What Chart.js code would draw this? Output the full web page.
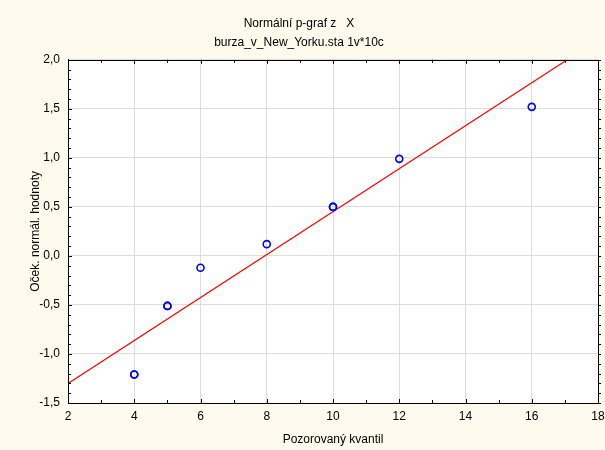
<!DOCTYPE html>
<html>
<head>
<meta charset="utf-8">
<script src="https://cdn.jsdelivr.net/npm/chart.js@4/dist/chart.umd.min.js"></script>
<style>
  html, body { margin: 0; padding: 0; background: #FEFAEE; }
  #wrap { width: 605px; height: 450px; }
</style>
</head>
<body>
<div id="wrap"><canvas id="chart" width="605" height="450"></canvas></div>
<script>
// pozorované hodnoty a očekávané normální hodnoty
const observed = [4, 4, 5, 5, 6, 8, 10, 10, 12, 16];
const expected = [-1.21, -1.21, -0.51, -0.51, -0.12, 0.12, 0.50, 0.50, 0.99, 1.52];
// koncové body přímky
const lineX = [2, 17.07];
const lineY = [-1.30, 2.0];
const xTicks = [2, 4, 6, 8, 10, 12, 14, 16, 18];
const yTicks = [-1.5, -1.0, -0.5, 0.0, 0.5, 1.0, 1.5, 2.0];

const FONT = 'Liberation Sans, Arial, sans-serif';

// rámeček a malé dílky uvnitř grafu
const framePlugin = {
    id: 'frame',
    afterDraw(chart) {
        const ctx = chart.ctx;
        const a = chart.chartArea;
        const xs = chart.scales.x, ys = chart.scales.y;
        ctx.save();
        ctx.strokeStyle = '#000';
        ctx.lineWidth = 1;
        ctx.strokeRect(Math.round(a.left) + 0.5, Math.round(a.top) + 0.5,
            Math.round(a.right - a.left), Math.round(a.bottom - a.top));
        ctx.beginPath();
        for (let v = xTicks[0]; v <= xTicks[xTicks.length - 1]; v += 1) {
            const px = Math.round(xs.getPixelForValue(v)) + 0.5;
            const len = (v % 2 === 0) ? 4 : 3;
            ctx.moveTo(px, a.bottom); ctx.lineTo(px, a.bottom - len);
            ctx.moveTo(px, a.top); ctx.lineTo(px, a.top + len);
        }
        for (let i = 0; i <= 35; i++) {
            const v = -1.5 + i * 0.1;
            const py = Math.round(ys.getPixelForValue(v)) + 0.5;
            const len = (i % 5 === 0) ? 4 : 3;
            ctx.moveTo(a.left, py); ctx.lineTo(a.left + len, py);
            ctx.moveTo(a.right, py); ctx.lineTo(a.right + 3, py);
        }
        ctx.stroke();
        ctx.restore();
    }
};

const bgPlugin = {
    id: 'bg',
    beforeDraw(chart) {
        const ctx = chart.ctx;
        const a = chart.chartArea;
        ctx.save();
        ctx.fillStyle = '#FEFAEE';
        ctx.fillRect(0, 0, chart.width, chart.height);
        ctx.fillStyle = '#FFFFFF';
        ctx.fillRect(a.left, a.top, a.right - a.left, a.bottom - a.top);
        ctx.restore();
    }
};

new Chart(document.getElementById('chart'), {
    type: 'scatter',
    data: {
        datasets: [
            {
                label: 'X',
                data: observed.map((x, i) => ({ x: x, y: expected[i] })),
                pointStyle: 'circle',
                pointRadius: 3.5,
                pointBorderWidth: 1.6,
                pointBorderColor: '#0000FF',
                pointBackgroundColor: 'rgba(0,0,0,0)',
                showLine: false
            },
            {
                label: 'přímka',
                data: lineX.map((x, i) => ({ x: x, y: lineY[i] })),
                showLine: true,
                borderColor: '#FF0000',
                borderWidth: 1.2,
                pointRadius: 0,
                fill: false
            }
        ]
    },
    options: {
        responsive: false,
        animation: false,
        layout: { padding: { left: 0, right: 7, top: 0, bottom: 0 } },
        plugins: {
            legend: { display: false },
            tooltip: { enabled: false },
            title: {
                display: true,
                text: 'Normální p-graf z   X',
                color: '#000',
                font: { family: FONT, size: 12, weight: 'normal' },
                padding: { top: 16, bottom: 5 }
            },
            subtitle: {
                display: true,
                text: 'burza_v_New_Yorku.sta 1v*10c',
                color: '#000',
                font: { family: FONT, size: 12, weight: 'normal' },
                padding: { top: 0, bottom: 10 }
            }
        },
        scales: {
            x: {
                type: 'linear',
                min: 2,
                max: 18,
                afterFit(scale) {
                    scale.height = 47;
                    scale.paddingRight = 0;
                    scale.paddingLeft = 0;
                },
                afterBuildTicks(scale) { scale.ticks = xTicks.map(v => ({ value: v })); },
                ticks: {
                    color: '#000',
                    padding: 6,
                    maxRotation: 0,
                    font: { family: FONT, size: 12 },
                    callback: v => String(v)
                },
                grid: { color: '#DDDDDD', lineWidth: 1, drawTicks: false },
                border: { display: true, color: '#000', width: 1 },
                title: {
                    display: true,
                    text: 'Pozorovaný kvantil',
                    color: '#000',
                    font: { family: FONT, size: 12 },
                    padding: { top: 0, bottom: 3 }
                }
            },
            y: {
                type: 'linear',
                min: -1.5,
                max: 2,
                afterFit(scale) { scale.width = 68; },
                afterBuildTicks(scale) { scale.ticks = yTicks.map(v => ({ value: v })); },
                ticks: {
                    color: '#000',
                    padding: 8,
                    font: { family: FONT, size: 12 },
                    callback: v => v.toFixed(1).replace('.', ',')
                },
                grid: { color: '#DDDDDD', lineWidth: 1, drawTicks: false },
                border: { display: true, color: '#000', width: 1 },
                title: {
                    display: true,
                    text: 'Oček. normál. hodnoty',
                    color: '#000',
                    font: { family: FONT, size: 12 },
                    padding: { top: 28, bottom: 0 }
                }
            }
        }
    },
    plugins: [bgPlugin, framePlugin]
});
</script>
</body>
</html>
